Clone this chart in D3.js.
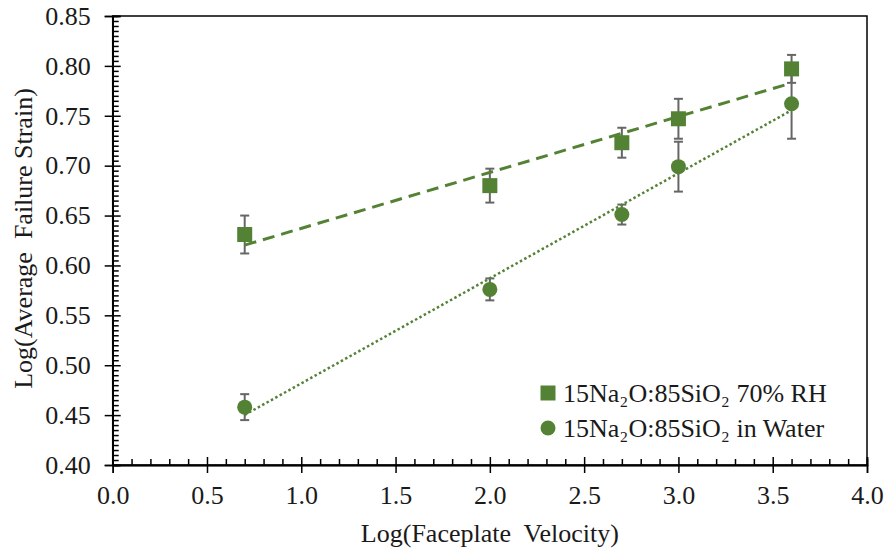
<!DOCTYPE html>
<html>
<head>
<meta charset="utf-8">
<script src="https://cdn.jsdelivr.net/npm/d3@7"></script>
<style>
  html, body { margin: 0; padding: 0; background: #fff; }
  svg { display: block; }
</style>
</head>
<body>
<svg id="chart" width="888" height="552"></svg>
<script>
// ---- data ----
const xValues = [0.7, 2.0, 2.7, 3.0, 3.6];
const rhValues = [0.631, 0.680, 0.723, 0.747, 0.797];
const rhErrors = [0.019, 0.017, 0.015, 0.020, 0.014];
const waterValues = [0.458, 0.576, 0.651, 0.699, 0.762];
const waterErrors = [0.013, 0.011, 0.010, 0.025, 0.035];
const seriesNames = ["15Na₂O:85SiO₂ 70% RH", "15Na₂O:85SiO₂ in Water"];
const xTicks = [0.0, 0.5, 1.0, 1.5, 2.0, 2.5, 3.0, 3.5, 4.0];
const yTicks = [0.40, 0.45, 0.50, 0.55, 0.60, 0.65, 0.70, 0.75, 0.80, 0.85];
const xTitle = "Log(Faceplate  Velocity)";
const yTitle = "Log(Average  Failure Strain)";

// ---- layout ----
const FONT = "'Liberation Serif', 'Times New Roman', serif";
const textColor = "#1a1a1a";
const green = "#548235";
const errColor = "#666666";
const pLeft = 112.7, pRight = 867, pTop = 16, pBottom = 465;

const svg = d3.select("#chart");
const x = d3.scaleLinear().domain([0, 4]).range([pLeft, pRight]);
const y = d3.scaleLinear().domain([0.40, 0.85]).range([pBottom, pTop]);

const xMinor = d3.range(0, 41).map(d => d / 10).filter(d => Math.round(d * 10) % 5 !== 0);
const yMinor = d3.range(80, 171).map(d => d / 200).filter(d => Math.round(d * 200) % 10 !== 0);

// frame
svg.append("rect").attr("x", pLeft).attr("y", pTop)
  .attr("width", pRight - pLeft).attr("height", pBottom - pTop)
  .attr("fill", "none").attr("stroke", "#000").attr("stroke-width", 1.5);

function styleAxis(g) {
  g.select(".domain").attr("stroke", "#000").attr("stroke-width", 1.5);
  g.selectAll(".tick line").attr("stroke", "#000").attr("stroke-width", 1.5);
  g.selectAll(".tick text").style("font-family", FONT).style("font-size", "26px")
    .attr("fill", textColor);
}

// x axis
svg.append("g").attr("transform", `translate(0,${pBottom})`)
  .call(d3.axisBottom(x).tickValues(xTicks).tickSize(8).tickPadding(13)
    .tickFormat(d3.format(".1f")))
  .call(styleAxis);
svg.append("g").attr("transform", `translate(0,${pBottom})`)
  .call(d3.axisTop(x).tickValues(xTicks).tickSize(8).tickFormat(""))
  .call(styleAxis);
svg.append("g").attr("transform", `translate(0,${pBottom})`)
  .call(d3.axisTop(x).tickValues(xMinor).tickSize(6).tickFormat(""))
  .call(styleAxis);

// y axis
svg.append("g").attr("transform", `translate(${pLeft},0)`)
  .call(d3.axisLeft(y).tickValues(yTicks).tickSize(8).tickPadding(14)
    .tickFormat(d3.format(".2f")))
  .call(styleAxis);
svg.append("g").attr("transform", `translate(${pLeft},0)`)
  .call(d3.axisRight(y).tickValues(yTicks).tickSize(8).tickFormat(""))
  .call(styleAxis);
svg.append("g").attr("transform", `translate(${pLeft},0)`)
  .call(d3.axisRight(y).tickValues(yMinor).tickSize(6).tickFormat(""))
  .call(styleAxis);

// titles
svg.append("text").attr("x", (pLeft + pRight) / 2).attr("y", 542)
  .attr("text-anchor", "middle").attr("fill", textColor)
  .style("font-family", FONT).style("font-size", "26px")
  .style("white-space", "pre").text(xTitle);
svg.append("text")
  .attr("transform", `translate(32,238.5) rotate(-90)`)
  .attr("text-anchor", "middle").attr("fill", textColor)
  .style("font-family", FONT).style("font-size", "26px")
  .style("white-space", "pre").text(yTitle);

// regression
function fit(xs, ys) {
  const mx = d3.mean(xs), my = d3.mean(ys);
  const sxy = d3.sum(xs, (d, i) => (d - mx) * (ys[i] - my));
  const sxx = d3.sum(xs, d => (d - mx) * (d - mx));
  const b = sxy / sxx, a = my - b * mx;
  return v => a + b * v;
}

const series = [
  { vals: rhValues, errs: rhErrors, shape: "square", dash: "12,7", width: 3 },
  { vals: waterValues, errs: waterErrors, shape: "circle", dash: "2.5,2.5", width: 2.5 }
];

// error bars
series.forEach(s => {
  const g = svg.append("g");
  xValues.forEach((xv, i) => {
    const lo = s.vals[i] - s.errs[i], hi = s.vals[i] + s.errs[i];
    g.append("line").attr("x1", x(xv)).attr("x2", x(xv)).attr("y1", y(lo)).attr("y2", y(hi))
      .attr("stroke", errColor).attr("stroke-width", 2);
    [lo, hi].forEach(v => g.append("line")
      .attr("x1", x(xv) - 4.5).attr("x2", x(xv) + 4.5).attr("y1", y(v)).attr("y2", y(v))
      .attr("stroke", errColor).attr("stroke-width", 2));
  });
});

// markers
series.forEach(s => {
  if (s.shape === "square") {
    svg.append("g").selectAll("rect").data(xValues).join("rect")
      .attr("x", (d) => x(d) - 7.5).attr("y", (d, i) => y(s.vals[i]) - 7.5)
      .attr("width", 15).attr("height", 15).attr("fill", green);
  } else {
    svg.append("g").selectAll("circle").data(xValues).join("circle")
      .attr("cx", d => x(d)).attr("cy", (d, i) => y(s.vals[i]))
      .attr("r", 7.5).attr("fill", green);
  }
});

// trendlines
series.forEach(s => {
  const f = fit(xValues, s.vals);
  const x0 = d3.min(xValues), x1 = d3.max(xValues);
  svg.append("line").attr("x1", x(x0)).attr("y1", y(f(x0)))
    .attr("x2", x(x1)).attr("y2", y(f(x1)))
    .attr("stroke", green).attr("stroke-width", s.width)
    .attr("stroke-dasharray", s.dash);
});

// legend
const legend = svg.append("g");
const legY = [393, 428];
legend.append("rect").attr("x", 548 - 7.5).attr("y", legY[0] - 7.5)
  .attr("width", 15).attr("height", 15).attr("fill", green);
legend.append("circle").attr("cx", 548).attr("cy", legY[1]).attr("r", 7.5).attr("fill", green);
seriesNames.forEach((n, i) => {
  legend.append("text").attr("x", 563).attr("y", legY[i]).attr("dy", "0.35em")
    .attr("fill", textColor)
    .style("font-family", FONT).style("font-size", "26px").text(n);
});
</script>
</body>
</html>
